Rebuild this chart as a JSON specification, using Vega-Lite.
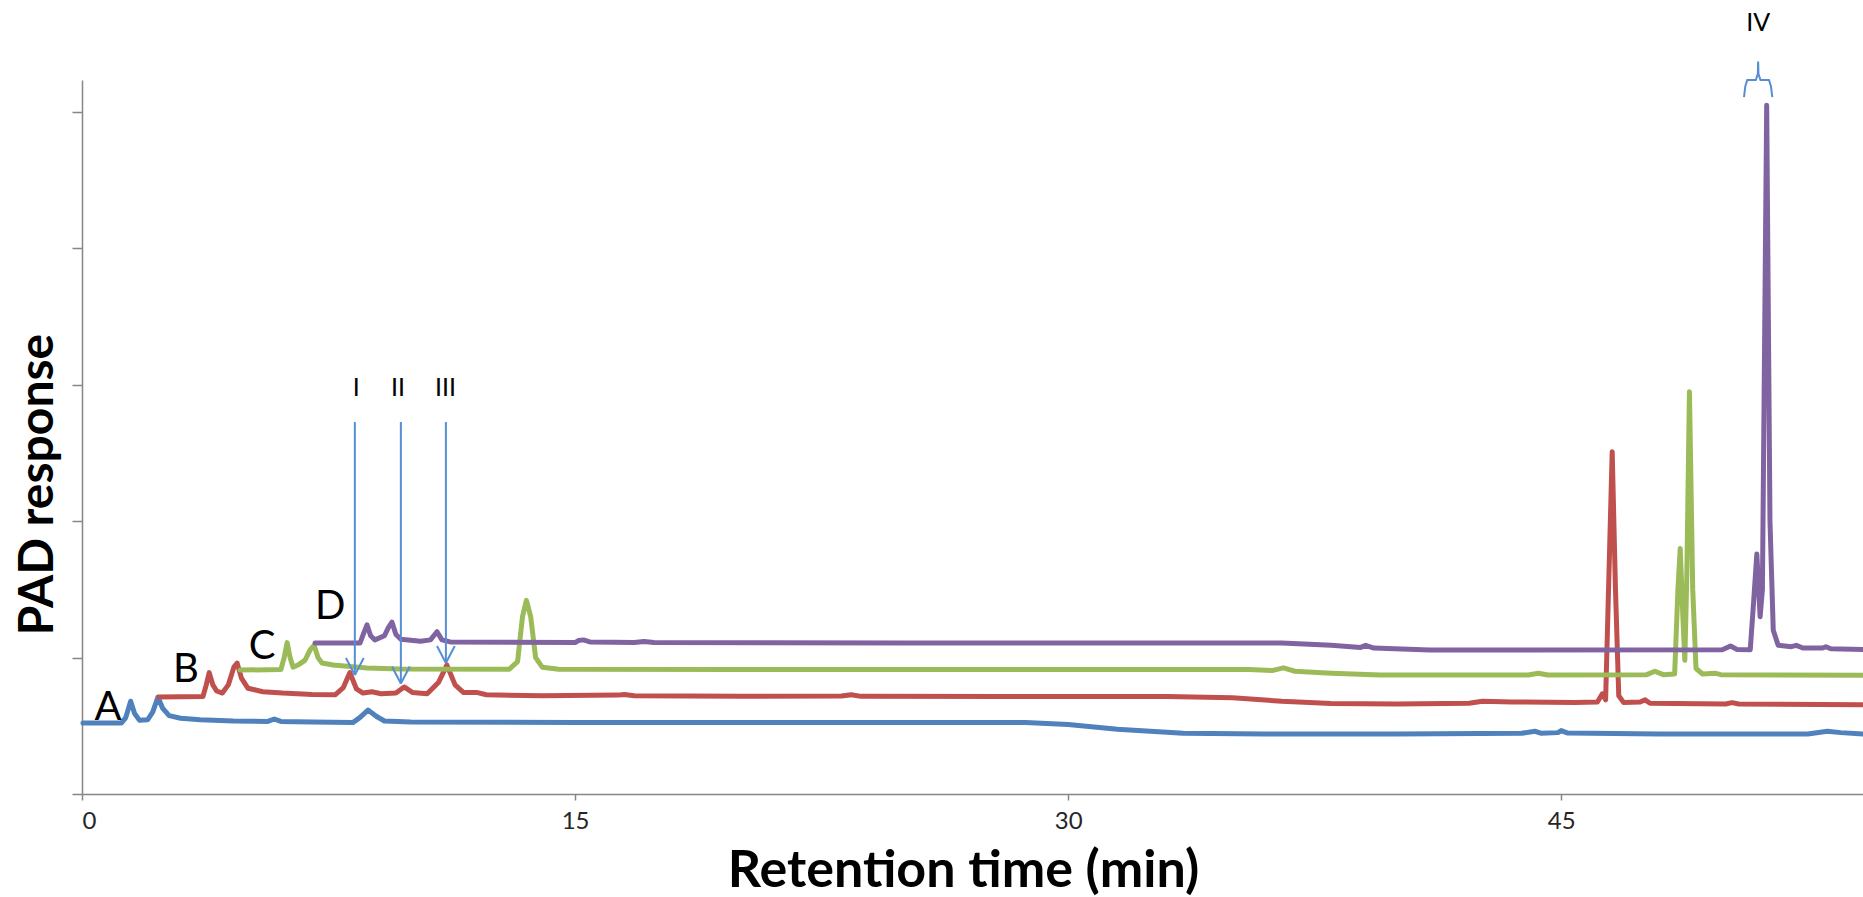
{
  "$schema": "https://vega.github.io/schema/vega-lite/v6.json",
  "width": 1781,
  "height": 714,
  "autosize": {"type": "none"},
  "padding": {"left": 82, "top": 80, "right": 0, "bottom": 103},
  "background": "white",
  "config": {"view": {"stroke": null}, "font": "Lato"},
  "datasets": {
    "traces": [
      {"s":"A","t":0.03,"r":0.52},{"s":"A","t":1.2,"r":0.52},{"s":"A","t":1.33,"r":0.56},{"s":"A","t":1.48,"r":0.68},{"s":"A","t":1.6,"r":0.59},{"s":"A","t":1.75,"r":0.54},{"s":"A","t":2.0,"r":0.545},{"s":"A","t":2.15,"r":0.6},{"s":"A","t":2.31,"r":0.71},{"s":"A","t":2.45,"r":0.63},{"s":"A","t":2.65,"r":0.575},{"s":"A","t":3.0,"r":0.555},{"s":"A","t":3.6,"r":0.545},{"s":"A","t":4.6,"r":0.535},{"s":"A","t":5.65,"r":0.532},{"s":"A","t":5.85,"r":0.55},{"s":"A","t":6.05,"r":0.532},{"s":"A","t":7.0,"r":0.528},{"s":"A","t":8.25,"r":0.525},{"s":"A","t":8.45,"r":0.56},{"s":"A","t":8.7,"r":0.615},{"s":"A","t":8.95,"r":0.57},{"s":"A","t":9.2,"r":0.535},{"s":"A","t":10,"r":0.528},{"s":"A","t":15,"r":0.525},{"s":"A","t":20,"r":0.525},{"s":"A","t":25,"r":0.525},{"s":"A","t":28.7,"r":0.525},{"s":"A","t":30,"r":0.51},{"s":"A","t":31.5,"r":0.475},{"s":"A","t":33.5,"r":0.445},{"s":"A","t":36,"r":0.44},{"s":"A","t":40,"r":0.44},{"s":"A","t":43.8,"r":0.445},{"s":"A","t":44.2,"r":0.46},{"s":"A","t":44.4,"r":0.445},{"s":"A","t":44.9,"r":0.45},{"s":"A","t":45.0,"r":0.465},{"s":"A","t":45.2,"r":0.447},{"s":"A","t":48,"r":0.44},{"s":"A","t":52.5,"r":0.44},{"s":"A","t":53.1,"r":0.46},{"s":"A","t":53.5,"r":0.45},{"s":"A","t":54.18,"r":0.44},
      {"s":"B","t":2.34,"r":0.711},{"s":"B","t":3.68,"r":0.715},{"s":"B","t":3.78,"r":0.8},{"s":"B","t":3.87,"r":0.89},{"s":"B","t":3.98,"r":0.8},{"s":"B","t":4.1,"r":0.755},{"s":"B","t":4.27,"r":0.74},{"s":"B","t":4.45,"r":0.8},{"s":"B","t":4.62,"r":0.93},{"s":"B","t":4.72,"r":0.96},{"s":"B","t":4.85,"r":0.85},{"s":"B","t":5.05,"r":0.775},{"s":"B","t":5.5,"r":0.75},{"s":"B","t":6.1,"r":0.74},{"s":"B","t":7.0,"r":0.73},{"s":"B","t":7.7,"r":0.727},{"s":"B","t":7.95,"r":0.78},{"s":"B","t":8.15,"r":0.89},{"s":"B","t":8.35,"r":0.77},{"s":"B","t":8.55,"r":0.74},{"s":"B","t":8.82,"r":0.75},{"s":"B","t":9.1,"r":0.735},{"s":"B","t":9.55,"r":0.74},{"s":"B","t":9.8,"r":0.785},{"s":"B","t":10.05,"r":0.745},{"s":"B","t":10.5,"r":0.735},{"s":"B","t":10.85,"r":0.82},{"s":"B","t":11.1,"r":0.945},{"s":"B","t":11.35,"r":0.8},{"s":"B","t":11.6,"r":0.745},{"s":"B","t":12.0,"r":0.745},{"s":"B","t":12.3,"r":0.728},{"s":"B","t":14,"r":0.72},{"s":"B","t":16.3,"r":0.725},{"s":"B","t":16.5,"r":0.73},{"s":"B","t":16.8,"r":0.72},{"s":"B","t":20,"r":0.717},{"s":"B","t":23.1,"r":0.718},{"s":"B","t":23.4,"r":0.728},{"s":"B","t":23.7,"r":0.716},{"s":"B","t":28,"r":0.714},{"s":"B","t":33,"r":0.714},{"s":"B","t":35,"r":0.705},{"s":"B","t":36.5,"r":0.68},{"s":"B","t":38,"r":0.664},{"s":"B","t":40,"r":0.66},{"s":"B","t":42.2,"r":0.665},{"s":"B","t":42.6,"r":0.68},{"s":"B","t":43.5,"r":0.675},{"s":"B","t":45.4,"r":0.67},{"s":"B","t":46.1,"r":0.675},{"s":"B","t":46.25,"r":0.735},{"s":"B","t":46.35,"r":0.69},{"s":"B","t":46.45,"r":1.6},{"s":"B","t":46.55,"r":2.51},{"s":"B","t":46.65,"r":1.5},{"s":"B","t":46.75,"r":0.72},{"s":"B","t":46.9,"r":0.67},{"s":"B","t":47.4,"r":0.675},{"s":"B","t":47.55,"r":0.69},{"s":"B","t":47.7,"r":0.665},{"s":"B","t":50,"r":0.66},{"s":"B","t":50.2,"r":0.67},{"s":"B","t":50.4,"r":0.66},{"s":"B","t":54.18,"r":0.655},
      {"s":"C","t":4.81,"r":0.909},{"s":"C","t":6.05,"r":0.912},{"s":"C","t":6.15,"r":1.0},{"s":"C","t":6.24,"r":1.11},{"s":"C","t":6.33,"r":1.0},{"s":"C","t":6.42,"r":0.93},{"s":"C","t":6.6,"r":0.95},{"s":"C","t":6.78,"r":0.98},{"s":"C","t":6.95,"r":1.06},{"s":"C","t":7.06,"r":1.09},{"s":"C","t":7.18,"r":1.0},{"s":"C","t":7.3,"r":0.96},{"s":"C","t":7.64,"r":0.946},{"s":"C","t":8.67,"r":0.924},{"s":"C","t":9.67,"r":0.917},{"s":"C","t":13.0,"r":0.915},{"s":"C","t":13.25,"r":0.97},{"s":"C","t":13.4,"r":1.3},{"s":"C","t":13.52,"r":1.42},{"s":"C","t":13.65,"r":1.3},{"s":"C","t":13.8,"r":1.0},{"s":"C","t":14.0,"r":0.93},{"s":"C","t":14.5,"r":0.915},{"s":"C","t":20,"r":0.913},{"s":"C","t":30,"r":0.913},{"s":"C","t":35.5,"r":0.912},{"s":"C","t":36.2,"r":0.905},{"s":"C","t":36.55,"r":0.925},{"s":"C","t":36.9,"r":0.9},{"s":"C","t":38,"r":0.885},{"s":"C","t":39.5,"r":0.872},{"s":"C","t":44,"r":0.872},{"s":"C","t":44.3,"r":0.885},{"s":"C","t":44.6,"r":0.872},{"s":"C","t":47.6,"r":0.875},{"s":"C","t":47.85,"r":0.9},{"s":"C","t":48.1,"r":0.875},{"s":"C","t":48.45,"r":0.88},{"s":"C","t":48.55,"r":1.5},{"s":"C","t":48.62,"r":1.8},{"s":"C","t":48.7,"r":1.3},{"s":"C","t":48.76,"r":0.98},{"s":"C","t":48.82,"r":1.6},{"s":"C","t":48.9,"r":2.95},{"s":"C","t":49.0,"r":1.5},{"s":"C","t":49.1,"r":0.92},{"s":"C","t":49.3,"r":0.88},{"s":"C","t":49.7,"r":0.885},{"s":"C","t":49.85,"r":0.875},{"s":"C","t":54.18,"r":0.87},
      {"s":"D","t":7.09,"r":1.107},{"s":"D","t":8.46,"r":1.107},{"s":"D","t":8.57,"r":1.18},{"s":"D","t":8.67,"r":1.24},{"s":"D","t":8.78,"r":1.16},{"s":"D","t":8.91,"r":1.13},{"s":"D","t":9.2,"r":1.16},{"s":"D","t":9.32,"r":1.22},{"s":"D","t":9.43,"r":1.26},{"s":"D","t":9.55,"r":1.17},{"s":"D","t":9.7,"r":1.135},{"s":"D","t":10.3,"r":1.12},{"s":"D","t":10.6,"r":1.13},{"s":"D","t":10.8,"r":1.19},{"s":"D","t":10.95,"r":1.13},{"s":"D","t":11.2,"r":1.115},{"s":"D","t":15.0,"r":1.11},{"s":"D","t":15.1,"r":1.125},{"s":"D","t":15.25,"r":1.13},{"s":"D","t":15.45,"r":1.115},{"s":"D","t":16.8,"r":1.11},{"s":"D","t":17.1,"r":1.118},{"s":"D","t":17.4,"r":1.11},{"s":"D","t":25,"r":1.107},{"s":"D","t":36.5,"r":1.107},{"s":"D","t":38.0,"r":1.09},{"s":"D","t":38.9,"r":1.075},{"s":"D","t":39.05,"r":1.09},{"s":"D","t":39.3,"r":1.07},{"s":"D","t":41,"r":1.055},{"s":"D","t":49.9,"r":1.058},{"s":"D","t":50.15,"r":1.085},{"s":"D","t":50.35,"r":1.06},{"s":"D","t":50.75,"r":1.058},{"s":"D","t":50.85,"r":1.4},{"s":"D","t":50.95,"r":1.76},{"s":"D","t":51.05,"r":1.3},{"s":"D","t":51.12,"r":1.5},{"s":"D","t":51.25,"r":5.05},{"s":"D","t":51.35,"r":2.0},{"s":"D","t":51.45,"r":1.2},{"s":"D","t":51.6,"r":1.09},{"s":"D","t":52.0,"r":1.08},{"s":"D","t":52.15,"r":1.09},{"s":"D","t":52.35,"r":1.07},{"s":"D","t":52.95,"r":1.07},{"s":"D","t":53.05,"r":1.08},{"s":"D","t":53.2,"r":1.065},{"s":"D","t":54.18,"r":1.06}
    ],
    "segments": [
      {"t":8.3,"r":2.727,"t2":8.3,"r2":0.872},
      {"t":8.03,"r":0.997,"t2":8.3,"r2":0.872},
      {"t":8.57,"r":0.997,"t2":8.3,"r2":0.872},
      {"t":9.7,"r":2.727,"t2":9.7,"r2":0.81},
      {"t":9.43,"r":0.935,"t2":9.7,"r2":0.81},
      {"t":9.97,"r":0.935,"t2":9.7,"r2":0.81},
      {"t":11.07,"r":2.727,"t2":11.07,"r2":0.96},
      {"t":10.8,"r":1.085,"t2":11.07,"r2":0.96},
      {"t":11.34,"r":1.085,"t2":11.07,"r2":0.96}
    ],
    "brace": [
      {"o":1,"t":50.56,"r":5.11},{"o":2,"t":50.6,"r":5.19},{"o":3,"t":50.66,"r":5.235},{"o":4,"t":50.92,"r":5.235},{"o":5,"t":50.98,"r":5.28},{"o":6,"t":50.99,"r":5.37},{"o":7,"t":51.0,"r":5.28},{"o":8,"t":51.06,"r":5.235},{"o":9,"t":51.32,"r":5.235},{"o":10,"t":51.38,"r":5.19},{"o":11,"t":51.42,"r":5.11}
    ],
    "letters": [
      {"label":"A","t":0.79,"r":0.63},
      {"label":"B","t":3.16,"r":0.91},
      {"label":"C","t":5.48,"r":1.08},
      {"label":"D","t":7.55,"r":1.37}
    ],
    "peaks": [
      {"label":"I","t":8.34,"r":2.98},
      {"label":"II","t":9.61,"r":2.98},
      {"label":"III","t":11.06,"r":2.98},
      {"label":"IV","t":50.99,"r":5.655}
    ]
  },
  "layer": [
    {
      "data": {"name": "traces"},
      "mark": {"type": "line", "strokeWidth": 5, "strokeJoin": "round", "strokeCap": "round"},
      "encoding": {
        "x": {"field": "t", "type": "quantitative",
          "scale": {"domain": [0, 54.18], "nice": false, "zero": false},
          "axis": {"values": [0, 15, 30, 45], "title": "Retention time (min)", "grid": false,
            "domainColor": "#868686", "domainWidth": 1.5, "tickColor": "#868686", "tickWidth": 1.5, "tickSize": 6,
            "labelFontSize": 24, "labelColor": "#262626", "labelFont": "Lato", "labelPadding": 9,
            "titleFont": "Lato", "titleFontSize": 52, "titleFontWeight": "bold", "titleColor": "black",
            "titleX": 881, "titleY": 92, "titleBaseline": "alphabetic", "titleAlign": "center"}},
        "y": {"field": "r", "type": "quantitative",
          "scale": {"domain": [0, 5.235], "nice": false, "zero": false},
          "axis": {"values": [0, 1, 2, 3, 4, 5], "labels": false, "title": "PAD response", "grid": false,
            "domainColor": "#868686", "domainWidth": 1.5, "tickColor": "#868686", "tickWidth": 1.5, "tickSize": 10,
            "titleFont": "Lato", "titleFontSize": 48, "titleFontWeight": "bold", "titleColor": "black",
            "titleAngle": 270, "titleX": -30, "titleY": 404, "titleBaseline": "alphabetic", "titleAlign": "center"}},
        "color": {"field": "s", "type": "nominal",
          "scale": {"domain": ["A", "B", "C", "D"], "range": ["#4F81BD", "#C0504D", "#9BBB59", "#8064A2"]},
          "legend": null}
      }
    },
    {
      "data": {"name": "segments"},
      "mark": {"type": "rule", "color": "#558ED5", "strokeWidth": 2},
      "encoding": {
        "x": {"field": "t", "type": "quantitative"},
        "y": {"field": "r", "type": "quantitative"},
        "x2": {"field": "t2"},
        "y2": {"field": "r2"}
      }
    },
    {
      "data": {"name": "brace"},
      "mark": {"type": "line", "color": "#558ED5", "strokeWidth": 2, "clip": false},
      "encoding": {
        "x": {"field": "t", "type": "quantitative"},
        "y": {"field": "r", "type": "quantitative"},
        "order": {"field": "o", "type": "quantitative"}
      }
    },
    {
      "data": {"name": "letters"},
      "mark": {"type": "text", "font": "Lato", "fontSize": 40, "color": "black", "align": "center", "baseline": "middle"},
      "encoding": {
        "x": {"field": "t", "type": "quantitative"},
        "y": {"field": "r", "type": "quantitative"},
        "text": {"field": "label"}
      }
    },
    {
      "data": {"name": "peaks"},
      "mark": {"type": "text", "font": "Lato", "fontSize": 25, "color": "black", "align": "center", "baseline": "middle"},
      "encoding": {
        "x": {"field": "t", "type": "quantitative"},
        "y": {"field": "r", "type": "quantitative"},
        "text": {"field": "label"}
      }
    }
  ]
}
